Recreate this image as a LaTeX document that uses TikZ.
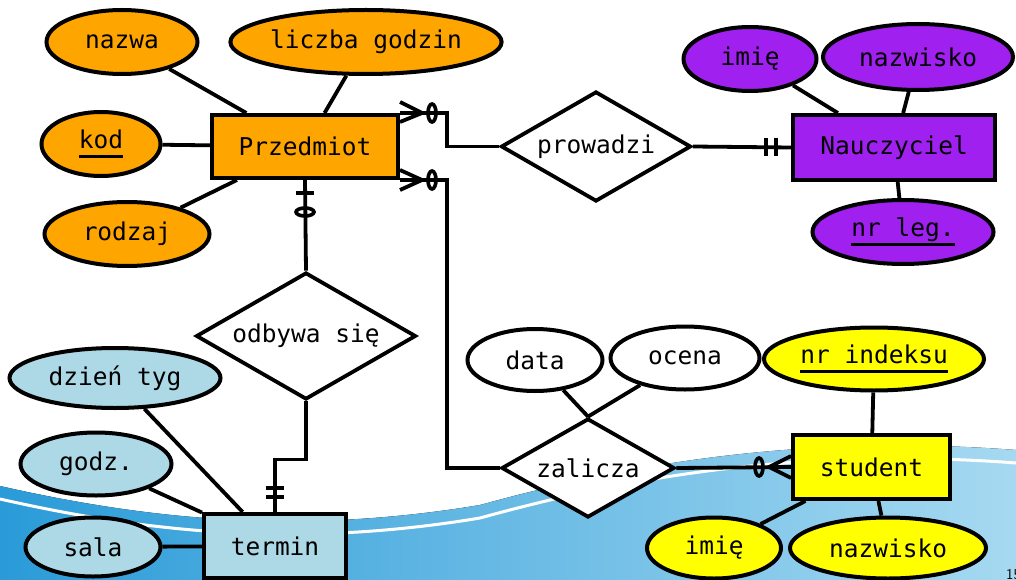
\documentclass[tikz,border=0pt]{standalone}
\usepackage{fontspec}
\newfontfamily\ermono{DejaVu Sans Mono}
\usetikzlibrary{shapes.geometric,calc}
\definecolor{orng}{HTML}{FFA500}
\definecolor{purp}{HTML}{A020F0}
\definecolor{lblu}{HTML}{ADD8E6}
\definecolor{yelo}{HTML}{FFFF00}
\definecolor{wvL}{HTML}{2A9BD8}
\definecolor{wvR}{HTML}{A6D9F1}
\newcommand\ulkey[1]{\leavevmode\setbox0\hbox{#1}\rlap{\rule[-9pt]{\wd0}{3pt}}\box0}
\begin{document}
\begin{tikzpicture}[x=1pt,y=-1pt,
  txt/.style={font=\ermono\fontsize{24.5}{29}\selectfont},
  ent/.style={txt,rectangle,draw,line width=4pt,inner sep=0pt},
  attr/.style={txt,ellipse,draw,line width=4pt,inner sep=0pt},
  rel/.style={txt,diamond,draw,fill=white,shape aspect=2,line width=3.8pt,inner sep=0pt},
  conn/.style={line width=3.8pt},
  ring/.style={line width=3.6pt}]
\useasboundingbox (0,0) rectangle (1016,580);
% background wave
\fill[white] (0,0) rectangle (1016,580);
\fill[left color=wvL, right color=wvR] (0,486) .. controls (150,520) and (300,535) .. (480,505) .. controls (600,472) and (780,432) .. (1016,450) -- (1016,580) -- (0,580) -- cycle;
\begin{scope}[shift={(0,13)}]
\draw[white, line width=3pt] (0,486) .. controls (150,520) and (300,535) .. (480,505) .. controls (600,472) and (780,432) .. (1016,450);
\end{scope}
\node[anchor=base west, font=\sffamily\fontsize{15}{17}\selectfont, inner sep=0pt] (pg) at (1006,579) {15};

% entities
\node[ent, fill=orng, minimum width=186, minimum height=63] (prz) at (305,146.5) {Przedmiot};
\node[ent, fill=purp, minimum width=202, minimum height=65] (nau) at (894,147.5) {Nauczyciel};
\node[ent, fill=lblu, minimum width=142, minimum height=64] (ter) at (275,546) {termin};
\node[ent, fill=yelo, minimum width=157, minimum height=64] (stu) at (871.5,467) {student};

% attributes
\node[attr, fill=orng, minimum width=151, minimum height=64] (nazwa) at (122,42) {nazwa};
\node[attr, fill=orng, minimum width=269, minimum height=64] (liczba) at (366,42) {liczba godzin};
\node[attr, fill=orng, minimum width=119, minimum height=64] (kod) at (101,144) {\ulkey{kod}};
\node[attr, fill=orng, minimum width=165, minimum height=64] (rodzaj) at (127,234) {rodzaj};
\node[attr, fill=purp, minimum width=133, minimum height=64] (imieA) at (750,59) {imię};
\node[attr, fill=purp, minimum width=190, minimum height=66] (nazwA) at (918,57) {nazwisko};
\node[attr, fill=purp, minimum width=181, minimum height=64] (nrleg) at (903,232) {\ulkey{nr leg.}};
\node[attr, fill=lblu, minimum width=211, minimum height=60] (dzien) at (115,378) {dzień tyg};
\node[attr, fill=lblu, minimum width=151, minimum height=63] (godz) at (96,464) {godz.};
\node[attr, fill=lblu, minimum width=135, minimum height=59] (sala) at (93,547) {sala};
\node[attr, fill=white, minimum width=135, minimum height=62] (data) at (535,360) {data};
\node[attr, fill=white, minimum width=149, minimum height=63] (ocena) at (685,358) {ocena};
\node[attr, fill=yelo, minimum width=220, minimum height=63] (nrind) at (874,359) {\ulkey{nr indeksu}};
\node[attr, fill=yelo, minimum width=134, minimum height=61] (imieB) at (714,548) {imię};
\node[attr, fill=yelo, minimum width=196, minimum height=61] (nazwB) at (888,548) {nazwisko};

% relationships
\node[rel, minimum width=190, minimum height=110] (pro) at (596,146.5) {prowadzi};
\node[rel, minimum width=220, minimum height=127] (odb) at (306,336) {odbywa się};
\node[rel, minimum width=173, minimum height=99] (zal) at (588,468) {zalicza};

% attribute links
\draw[conn] (nazwa) -- (prz);
\draw[conn] (liczba) -- (prz);
\draw[conn] (kod) -- (prz);
\draw[conn] (rodzaj) -- (prz);
\draw[conn] (imieA) -- (nau);
\draw[conn] (nazwA) -- (nau);
\draw[conn] (nrleg) -- (nau);
\draw[conn] (dzien) -- (ter);
\draw[conn] (godz) -- (ter);
\draw[conn] (sala) -- (ter);
\draw[conn] (nrind) -- (stu);
\draw[conn] (imieB) -- (stu);
\draw[conn] (nazwB) -- (stu);
\draw[conn] (data) -- (zal.north);
\draw[conn] (ocena) -- (zal.north);

% Przedmiot -- prowadzi
\draw[conn] (prz.north east) -- ++(47,0) |- (pro.west);
\draw[conn] ($(prz.north east)+(0,-11)$) -- ($(prz.north east)+(22,0)$) -- ($(prz.north east)+(0,9)$);
\draw[ring] ($(prz.north east)+(32,0)$) ellipse[x radius=4, y radius=9];
% Przedmiot -- zalicza
\draw[conn] (prz.south east) -- ++(47,0) |- (zal.west);
\draw[conn] ($(prz.south east)+(0,-10)$) -- ($(prz.south east)+(22,0)$) -- ($(prz.south east)+(0,10)$);
\draw[ring] ($(prz.south east)+(32,0)$) ellipse[x radius=4, y radius=9];
% prowadzi -- Nauczyciel
\draw[conn] (pro.east) -- (nau.west);
\draw[conn] ($(nau.west)+(-25,-9)$) -- ++(0,18);
\draw[conn] ($(nau.west)+(-15,-9)$) -- ++(0,18);
% Przedmiot -- odbywa sie
\draw[conn] (prz.south) -- (odb.north);
\draw[conn] ($(prz.south)+(-9,13)$) -- ++(18,0);
\draw[ring] ($(prz.south)+(0,32)$) ellipse[x radius=9, y radius=4];
% odbywa sie -- termin
\draw[conn] (odb.south) -- ++(0,58) -| (ter.north);
\draw[conn] ($(ter.north)+(-9,-24)$) -- ++(18,0);
\draw[conn] ($(ter.north)+(-9,-15)$) -- ++(18,0);
% zalicza -- student
\draw[conn] (zal.east) -- (stu.west);
\draw[ring] ($(stu.west)+(-32,0)$) ellipse[x radius=4, y radius=9];
\draw[conn] ($(stu.west)+(0,-11)$) -- ($(stu.west)+(-22,0)$) -- ($(stu.west)+(0,11)$);
\end{tikzpicture}
\end{document}
